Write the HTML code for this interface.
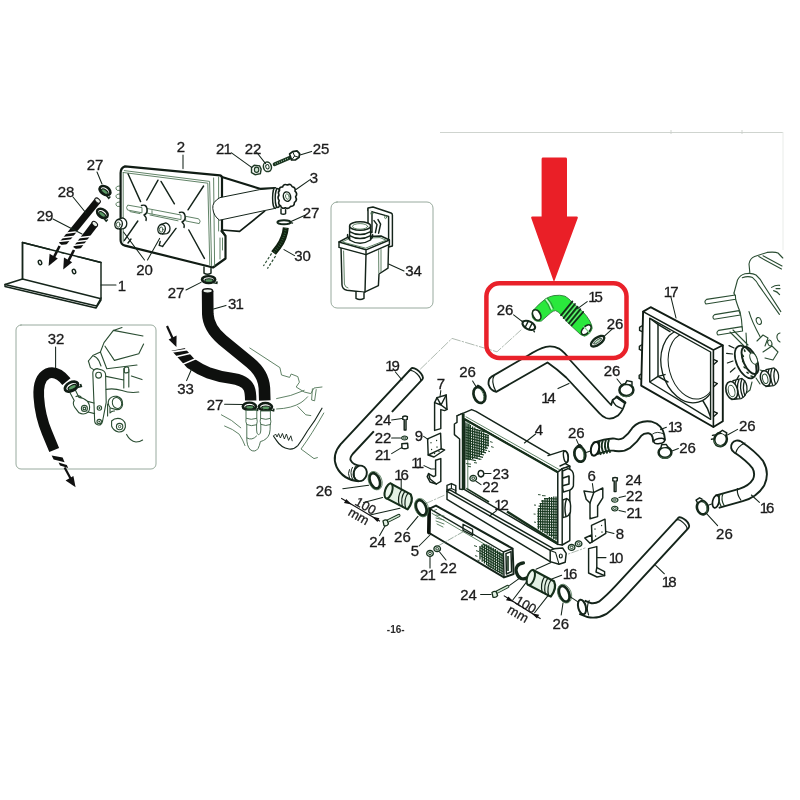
<!DOCTYPE html>
<html>
<head>
<meta charset="utf-8">
<title>Cooling system diagram</title>
<style>
html,body{margin:0;padding:0;background:#fff;}
body{width:800px;height:800px;overflow:hidden;font-family:"Liberation Sans",sans-serif;}
svg{display:block;filter:blur(0.35px);}
.l{fill:none;stroke:#14241a;stroke-width:1.45;stroke-linecap:round;stroke-linejoin:round;}
.lw{fill:#fff;stroke:#14241a;stroke-width:1.45;stroke-linecap:round;stroke-linejoin:round;}
.b{fill:none;stroke:#101c14;stroke-width:2.2;stroke-linecap:round;stroke-linejoin:round;}
.bw{fill:#fff;stroke:#101c14;stroke-width:2.2;stroke-linecap:round;stroke-linejoin:round;}
.t{fill:none;stroke:#4f7556;stroke-width:0.9;stroke-linecap:round;stroke-linejoin:round;}
.tw{fill:#fff;stroke:#4f7556;stroke-width:0.9;stroke-linecap:round;stroke-linejoin:round;}
.g{fill:none;stroke:#8aa08e;stroke-width:0.8;stroke-linecap:round;stroke-linejoin:round;}
.ld{fill:none;stroke:#14241a;stroke-width:1.05;stroke-linecap:round;}
.k{fill:none;stroke:#0e100e;stroke-linecap:butt;stroke-linejoin:round;}
#engineR .t,#engineR .tw,#inset32 .t,#inset32 .tw{stroke:#2a4d32;stroke-width:1.1}
.n{font-family:"Liberation Sans",sans-serif;font-size:15px;fill:#1b1b1b;text-anchor:middle;stroke:#1b1b1b;stroke-width:0.3;}
</style>
</head>
<body>
<svg width="800" height="800" viewBox="0 0 800 800">
<rect x="0" y="0" width="800" height="800" fill="#ffffff"/>
<!-- ===== defs ===== -->
<g id="sec-defs">
<defs>
<!-- small hose clamp seen at angle -->
<g id="clampS">
<ellipse cx="0" cy="0" rx="5.2" ry="3.4" fill="#fff" stroke="#101c14" stroke-width="2.2"/>
<ellipse cx="0.3" cy="0.8" rx="3.3" ry="1.6" fill="#5a9a64" stroke="#101c14" stroke-width="0.9"/>
<path d="M3.5 2.8 L6.5 3.6 L6.8 1.6" fill="none" stroke="#14281a" stroke-width="1.3"/>
</g>
<!-- ring clamp (26) upright ellipse -->
<g id="ring26">
<ellipse cx="0" cy="0" rx="5" ry="7.8" fill="#fff" stroke="#14281a" stroke-width="2.2"/>
<ellipse cx="0" cy="0" rx="6.6" ry="9.2" fill="none" stroke="#3f6a47" stroke-width="0.7"/>
</g>
<!-- nut -->
<g id="nut">
<path d="M-3.6 -1.8 L-1.5 -3.6 L2.6 -3.2 L3.8 -0.6 L3.2 2.8 L-0.8 3.6 L-3.6 2 Z" fill="#fff" stroke="#1f3b25" stroke-width="1.1"/>
<ellipse cx="0.3" cy="-0.2" rx="1.7" ry="2" fill="#cfe3d2" stroke="#1f3b25" stroke-width="0.9"/>
</g>
<!-- washer -->
<g id="washer">
<ellipse cx="0" cy="0" rx="3.6" ry="4.4" fill="#fff" stroke="#1f3b25" stroke-width="1.4"/>
<ellipse cx="0" cy="0" rx="1.5" ry="2" fill="#fff" stroke="#1f3b25" stroke-width="0.9"/>
</g>
<!-- tiny nut / washer for right side (top-view like) -->
<g id="nutT">
<ellipse cx="0" cy="0" rx="3.3" ry="2.9" fill="#d3e8d6" stroke="#183220" stroke-width="1.3"/>
<ellipse cx="0" cy="0" rx="1.4" ry="1.2" fill="#fff" stroke="#183220" stroke-width="0.9"/>
</g>
<marker id="ah" viewBox="0 0 10 10" refX="9" refY="5" markerWidth="6" markerHeight="6" orient="auto-start-reverse">
<path d="M0 0 L10 5 L0 10 Z" fill="#111"/>
</marker>
</defs>
</g>
<!-- ===== page ===== -->
<g id="sec-page">
<path d="M440 132.5 H783" stroke="#c9cfca" stroke-width="0.9" fill="none"/>
<path d="M671 130 v4 M742 130 v4" stroke="#c9cfca" stroke-width="0.9" fill="none"/>
<path d="M783 132 V250" stroke="#e6eae6" stroke-width="0.9" fill="none"/>
</g>
<!-- ===== insets ===== -->
<g id="sec-insets">
<rect x="331" y="202" width="102" height="106" rx="6" ry="6" class="g" style="stroke:#7f9585"/>
<rect x="16" y="325" width="140" height="144" rx="5" ry="5" class="g" style="stroke:#7f9585"/>
</g>
<!-- ===== left ===== -->
<g id="sec-left">
<!-- ===== plate 1 ===== -->
<g id="plate1">
<path class="lw" d="M22.5 242.5 L101 262.5 L101 300 L96 308 L5 286.5 L5 284.5 L22.5 279 Z"/>
<path class="l" d="M22.5 279 L100 298.5"/>
<path class="l" d="M5 284.5 L96.5 306 L101 298"/>
<path class="l" d="M22.5 242.5 V279" style="stroke-width:1.5"/>
<ellipse class="l" cx="40" cy="262.5" rx="1.6" ry="2.3" transform="rotate(-20 40 262.5)"/>
<ellipse class="l" cx="74" cy="271.5" rx="1.6" ry="2.3" transform="rotate(-20 74 271.5)"/>
<path class="ld" d="M101 285 H116"/>
</g>

<!-- ===== hoses 28 / 29 ===== -->
<g id="hose2829">
<path class="k" d="M97.4 201 L61.6 245" stroke-width="7"/>
<path d="M50 246 L70 244 L70 252 L50 254 Z" fill="#fff"/>
<path d="M65 233.2 L79 231.6" stroke="#fff" stroke-width="1.5"/>
<path d="M61.4 237.8 L75 236.2" stroke="#fff" stroke-width="1.5"/>
<path d="M58.2 241.6 L72 240" stroke="#fff" stroke-width="1.5"/>
<ellipse cx="97.6" cy="200.6" rx="3.2" ry="2" transform="rotate(40 97.6 200.6)" fill="#e6ede6" stroke="#111" stroke-width="1"/>
<path d="M59.6 246 L52 261" stroke="#111" stroke-width="2.6" fill="none"/>
<path d="M48.6 266 L49.6 253.8 L57.8 258.6 Z" fill="#111"/>
<path class="k" d="M94.6 224.3 L76 249" stroke-width="7"/>
<path d="M64 250 L84 248 L84 256 L64 258 Z" fill="#fff"/><path class="l" d="M22.5 242.5 L101 262.5"/>
<path d="M78.4 237.8 L92 236.2" stroke="#fff" stroke-width="1.5"/>
<path d="M75.2 241.8 L89 240.2" stroke="#fff" stroke-width="1.5"/>
<path d="M72.4 245.6 L86 244" stroke="#fff" stroke-width="1.5"/>
<ellipse cx="94.8" cy="224" rx="3.2" ry="2" transform="rotate(40 94.8 224)" fill="#e6ede6" stroke="#111" stroke-width="1"/>
<path d="M74 250 L66.4 264.6" stroke="#111" stroke-width="2.6" fill="none"/>
<path d="M63.2 269.6 L64 257.4 L72.2 262.2 Z" fill="#111"/>
<path class="ld" d="M73 197 L86 213"/>
<path class="ld" d="M53 219 L82 234"/>
</g>

<!-- clamps 27 upper-left -->
<use href="#clampS" transform="translate(105 190.6) rotate(35) scale(1.15)"/>
<use href="#clampS" transform="translate(102.4 213.4) rotate(35) scale(1.15)"/>
<path class="ld" d="M97 172 L102 184"/>

<!-- ===== tank 2 ===== -->
<g id="tank2">
<!-- left bumps -->
<path class="t" d="M119.5 186 q-4 0 -3.5 3 q0.5 2 3.5 1.5 M119.5 194 q-4 0 -3.5 3 q0.5 2 3.5 1.5 M119.5 202 q-4 0 -3.5 3 q0.5 2 3.5 1.5"/>
<!-- outer -->
<path class="bw" d="M120.6 173 Q120.6 168 125 166.4 L220 175.4 Q222 176 222 178 L222 231 L225.5 236 L225.5 258.5 L213 267.5 L125 245.6 Q120.6 244.5 120.6 240 Z"/>
<!-- front face inner -->
<path class="t" d="M124.3 170.6 L209.6 181.4 L211.6 265.8"/>
<path class="t" d="M123.2 172.5 L207.8 183.2 L209.8 265"/>
<path class="t" d="M123.2 172.5 V242"/>
<path class="t" d="M213.6 178 L214.6 266"/>
<path class="t" d="M218.6 177 V231"/>
<path class="l" d="M221 231 L225.5 236"/>
<path class="t" d="M220 238 V259 M222.5 238 V250"/>
<!-- ribs -->
<path class="l" d="M128 173.8 L140.6 201.6 M146.8 200 L158 180.2 M161 181.4 L174.4 203.8 M188 209.8 L203.6 186"/>
<path class="l" d="M124.4 240.4 L137.8 221 M162.6 246.4 L176 228.4 M188.8 230 L204.4 258.4"/>
<path class="l" d="M128 243 l3 -4 M162.6 246.4 l-3.4 -1 l1 -4"/>
<!-- cross tube -->
<path class="tw" d="M127.5 205.4 Q125.5 207.5 127.5 210 L142 212.8 L142 208 Z"/>
<path class="tw" d="M147.5 208.6 L181 215 L181 219.6 L147.5 213.2 Z"/>
<path class="tw" d="M186 216.4 L198.6 218.8 Q201.5 221 199.2 223.6 L186 221 Z"/>
<path class="l" d="M141.5 205.5 q4.5 -1.5 5.5 3 q0.8 5 -3 6.5 q3 2.5 2 5.4"/>
<path class="l" d="M179.5 212.5 q4.5 -1.5 5.5 3 q0.8 5 -3 6.5 q3 2.5 2 5.4"/>
<path class="t" d="M130 211.6 L140 213.6 M150 215 L178 220.8 M152 210.6 V214"/>
<!-- plugs 20 -->
<path class="lw" d="M117.4 219.6 L122.6 217.8 Q126.8 219.4 126.8 223.4 Q126.6 227.6 123.6 228.6 L119.4 229 Z" style="stroke-width:1.3"/>
<ellipse class="lw" cx="118.6" cy="224.2" rx="3.7" ry="4.7" transform="rotate(12 118.6 224.2)" style="stroke-width:1.4"/>
<ellipse class="t" cx="118.2" cy="224.6" rx="1.8" ry="2.6" style="stroke:#2a4d32"/>
<path class="lw" d="M160.4 224.6 L165.8 222.8 Q170 224.4 170 228.4 Q169.8 232.6 166.8 233.6 L162.4 234 Z" style="stroke-width:1.3"/>
<ellipse class="lw" cx="161.6" cy="229.2" rx="3.7" ry="4.7" transform="rotate(12 161.6 229.2)" style="stroke-width:1.4"/>
<ellipse class="t" cx="161.2" cy="229.6" rx="1.8" ry="2.6" style="stroke:#2a4d32"/>
<path class="ld" d="M144.5 260 L123.5 232 M147.5 260 L159.6 238.4"/>
<!-- bottom outlet -->
<path class="lw" d="M204 267 V273.2 Q207.5 275.4 211 273.2 V268.4"/>
<!-- leader 2 -->
<path class="ld" d="M183 155 V168.6"/>
</g>

<!-- ===== neck ===== -->
<g id="neck">
<path class="b" d="M222 177 L260 188.8 L275 188"/>
<path class="lw" d="M219.6 197.8 Q212 202 212.8 208.5 Q213.5 216 219.6 220.2 L264.5 210.6 L275 208.4 L275 188.4 L260 189.6 Z" style="stroke-width:1"/>
<path class="b" d="M222 230 L239.6 231.4 L264.6 211.2" style="stroke-width:1.7"/>
</g>

<!-- ===== cap 3 ===== -->
<g id="cap3">
<ellipse class="lw" cx="275.2" cy="198" rx="2.6" ry="10.4"/>
<ellipse class="lw" cx="277.8" cy="198" rx="2.6" ry="9.6"/>
<path class="lw" d="M281 209 v4.6 q2.4 1.4 4.6 0 v-4"/>
<path class="bw" d="M279.5 190.5 Q279 186.5 282.6 187 Q283.6 183.4 287.4 185 Q290.6 183.2 292.2 186.8 Q296 187.4 295 191.2 Q298 193.8 295.6 196.8 Q297.6 200.4 294.4 202.4 Q294.4 206.6 290.6 206.4 Q288.6 209.6 285.4 207.8 Q281.6 209.4 280.6 205.8 Q277.6 204 279.2 200.6 Q277 197.6 279 195 Q277.6 192 279.5 190.5 Z" style="stroke-width:1.6"/>
<ellipse class="l" cx="287" cy="196.6" rx="3.6" ry="4.8" transform="rotate(-15 287 196.6)"/>
<ellipse class="t" cx="287.4" cy="196.6" rx="1.8" ry="2.8" transform="rotate(-15 287.4 196.6)"/>
<path class="ld" d="M296 189.5 L310.5 179.4"/>
</g>

<!-- ===== hardware 21/22/25 ===== -->
<g id="hw-top">
<use href="#nut" transform="translate(256.2 170) scale(1.3)"/>
<use href="#washer" transform="translate(267.4 166.8) rotate(-15) scale(1.1)"/>
<path d="M274.6 164.2 L290.4 157.4" stroke="#1a3520" stroke-width="3.8" stroke-linecap="round" fill="none"/>
<path d="M275 164 L289 158" stroke="#a8c9ad" stroke-width="1.2" stroke-dasharray="0.8 1.4" fill="none"/>
<path class="lw" d="M289.6 154 L292.6 151.6 L297 150.8 L299.6 153.6 L299 157.4 L295.6 159.8 L291.6 160 Z" style="stroke-width:1.7"/><path class="l" d="M292.6 151.6 L294.6 156 L291.6 160 M294.6 156 L299 157.4" style="stroke-width:1"/>
<path class="ld" d="M231.5 152.8 L251.6 167.4 M256.4 152 L265.6 163.6 M300 155 L311.6 151.4"/>
</g>

<!-- ===== clamp 27 + hose 30 ===== -->
<g id="hose30">
<ellipse cx="284" cy="222.2" rx="6.6" ry="2" fill="#fff" stroke="#14281a" stroke-width="2"/>
<path d="M289.5 222.6 l3.6 0.6" stroke="#14281a" stroke-width="1.3" fill="none"/>
<path class="ld" d="M291 221.6 L305 215.2"/>
<path class="k" d="M285.8 227.6 Q284.8 238 278.6 246.6 L273.6 253" stroke-width="6" style="stroke:#10200f"/>
<path d="M285.8 228 Q284.8 238 278.6 246.6 L274 252.6" stroke="#3c7047" stroke-width="2" stroke-dasharray="0.7 1.7" fill="none"/>
<path d="M271.6 253.4 L263.4 266 M275.6 256 L267.4 268.6" stroke="#2a4d32" stroke-width="1.2" stroke-dasharray="2.6 1.8" fill="none"/>
<path class="ld" d="M284 249.6 L294.6 255.6"/>
</g>

<!-- ===== clamp 27 under tank + hose 31 / 33 ===== -->
<g id="hose3133">
<use href="#clampS" transform="translate(208.6 279.6) scale(1.25 1.05)"/>
<path class="ld" d="M186 290 L201 282.4"/>
<!-- hose 31 -->
<path class="k" d="M207.6 291 L207.8 314 Q208.4 328 222.5 340 L250 362.5 Q263.5 373.5 264.4 388 L264.8 400.5" stroke-width="11.6"/>
<ellipse cx="207.6" cy="291" rx="5" ry="2.2" fill="#e8efe8" stroke="#0e100e" stroke-width="1.6"/>
<path class="ld" d="M213.6 309 L226 305.4"/>
<!-- hose 33 -->
<path class="k" d="M174.6 345.4 L190.6 363.2 Q199 369 209.3 373.2 Q220 377 230.4 378.2 Q245 380 249 388 Q250.7 392 250.7 400.5" stroke-width="11.4"/>
<path d="M163 352.6 L189 347.2 L189 336 L163 338 Z" fill="#fff"/>
<path d="M169 352.4 L187 349.6" stroke="#fff" stroke-width="1.7" fill="none"/>
<path d="M172.6 357.4 L191 353.2" stroke="#fff" stroke-width="1.5" fill="none"/>
<path d="M179.6 365.6 L197.4 358" stroke="#fff" stroke-width="1.5" fill="none"/>
<path d="M167 326 L173.4 340" stroke="#111" stroke-width="2.2" fill="none"/>
<path d="M176.4 347 L168.6 339.4 L176.6 335.6 Z" fill="#111"/>
<path class="ld" d="M186.6 380.6 L191.4 369.5"/>
<path class="ld" d="M224.6 404.2 L243 404.4"/>
<!-- lower clamps -->
<use href="#clampS" transform="translate(249.4 406.4) scale(1.25 1.1)"/>
<use href="#clampS" transform="translate(265.4 406.8) scale(1.25 1.1)"/>
</g>

<!-- ===== pipe fittings + body sketch under hoses 31/33 ===== -->
<g id="under3133">
<path class="t" d="M249.8 348 L279.9 367.6 L281.5 375 L289.6 377.4 L291.2 374 L297.8 376.6 L299.4 382.2 L296.2 387 L304.2 392 L310.8 393.6 L314 388 L322 387"/>
<path class="t" d="M312.4 388.8 L311.6 400 L314.6 400.8 L316.2 389.6"/>
<path class="t" d="M276.6 398.6 Q291 396.4 304.2 390.4"/>
<path class="t" d="M276.6 409 Q292 408.4 301 402.6 Q305 400 307.6 396.8"/>
<path class="t" d="M297.8 406.6 L305.8 414.8 L310.8 415.6"/>
<path class="l" d="M322 408.2 Q315 421 307.4 431 Q302 440 297.8 445.6 Q294 449.6 289 449 Q281 447.6 276.6 440.6 L273.4 436" style="stroke-width:1.1"/>
<path class="t" d="M323.8 413 Q312 434 301 449 L314 458.6 L317.4 457.6"/>
<path class="l" d="M274 435.6 l1.6 -1.6 l1.4 3 l1.6 -3.4 l1.8 4.4 l2 -4.6 l2 5.6 l2 -5 l2.2 6.4 l2.2 -4.6 l1.4 5" style="stroke-width:0.9"/>
<path class="t" d="M221.4 414.8 Q232 419.6 240.8 427.8 M224.6 426 Q233 429 239.2 434.2 Q243 440 245 445.6"/>
<!-- pipes -->
<path class="tw" d="M246 410.6 V418.6 Q245.4 421.6 246.8 424.6 V437 Q246.4 446 250.6 450 Q255 452.6 258 448.6 Q259.6 445.6 260.4 441.6 Q267 440 269.4 434 Q270.4 430 270.2 425 Q271.4 421.6 270.4 418.4 V411 L260.6 411 V418.4 Q259.6 421 260.8 424.4 V430 Q260.6 434.6 258.4 434.6 Q256.6 434.4 256.6 430 V424.8 Q257.8 421.4 256.8 418.4 V410.6 Z" style="stroke:#3d6446"/>
<path class="t" d="M246.4 418.4 Q251 420.4 256.6 418.4 M246.8 424.6 Q251 426.8 256.6 424.8 M260.8 418.4 Q266 420.4 270.4 418.4 M260.8 424.4 Q266 426.6 270.2 424.6 M247 438 Q252 441 256.6 436" style="stroke:#3d6446"/>
</g>

<!-- ===== inset 34: reservoir ===== -->
<g id="res34">
<!-- bracket -->
<path class="lw" d="M368 208 L373 207 L391 213 Q392.4 213.6 392.4 215 L392.4 246 L388.6 247 L388.6 216.4 L368 210.6 Z"/>
<path class="lw" d="M368 208.6 V231 L372 232.6 V211.6"/>
<ellipse class="t" cx="371.8" cy="213.4" rx="1" ry="1.4"/><ellipse class="t" cx="385.6" cy="217.2" rx="1" ry="1.4"/>
<path class="l" d="M374 220.6 l3 4 l-1.6 8 M378 219.6 l2.6 4.6 l-2 9"/>
<!-- body -->
<path class="lw" d="M341 247 L342 285 Q342.4 289.4 347 290.2 L364.6 292.2 L378.4 285.6 L379 274 L388 268.2 L388.6 244 L366 254 Z"/>
<path class="l" d="M366 254 L365 292"/>
<path class="t" d="M343.6 251 L344.4 284 Q345 287.4 348 288 M378.6 250.6 L378.8 273 M381 249.6 V271.6"/>
<!-- lid -->
<path class="lw" d="M339 242 L348 237.2 L381 236 L389.4 240 L389.4 244.4 L366 254.6 L339 247.4 Z"/>
<path class="l" d="M339 242 L366 249.8 L389.4 240 M366 249.8 V254.6"/>
<path class="t" d="M342.6 241.8 L349 238.6 L380 237.6 L386 240.2 L366 248 Z"/>
<!-- cap -->
<path class="lw" d="M349.6 226 V240 Q360 246.5 370.6 240 V226 Z"/>
<path class="l" d="M349.6 231.6 Q360 237.6 370.6 231.6 M349.6 235.6 Q360 241.6 370.6 235.6" />
<path class="l" d="M347.6 234.6 Q347 238 349.6 239 M372.6 234.6 Q373 238 370.6 239"/>
<ellipse class="lw" cx="360.1" cy="226" rx="10.5" ry="4.2"/>
<ellipse class="t" cx="360.1" cy="226.4" rx="7.6" ry="2.8"/>
<!-- outlet -->
<path class="lw" d="M356 292 V298.4 Q360 300.6 364 298.4 V292.6"/>
<path class="ld" d="M388.6 264 L404 271"/>
</g>

<!-- ===== inset 32 ===== -->
<g id="inset32">
<!-- engine sketch -->
<path class="t" d="M113.4 330.4 L104 342.6 L100.4 352 L92.8 355.6 L88.4 361 M113.4 330.4 L122 327.6 M113.4 330.4 L143 336 M105 346.2 L114.4 360.4 L138.8 353.8 L143.6 344 M100.4 352 L106.8 368.8 L137 365 M92.8 355.6 Q97 357 99 361 L101 366"/>
<path class="t" d="M88.4 361 L90.4 367.6 L93.6 369.6"/>
<!-- bracket -->
<path class="tw" d="M92.8 373 Q93 369 97 368.6 L102 370 Q105.6 371.4 105.6 375 L106.2 402.4 L102.6 421 Q101.4 425.6 98.2 425 Q94.4 424.4 94.6 419.6 Z"/>
<circle class="t" cx="98.6" cy="375.2" r="2.9"/>
<circle class="t" cx="99.4" cy="408" r="2.2"/><circle class="t" cx="99.2" cy="421.6" r="2.2"/>
<circle cx="99.4" cy="408" r="0.9" fill="#2a4d32"/><circle cx="99.2" cy="421.6" r="0.9" fill="#2a4d32"/>
<!-- box + pin -->
<path class="t" d="M106 376.4 L123.8 380 L123.8 368.6 M106.2 389.4 Q114 388 122 390.6 Q130 393.4 138.8 392 M123.8 380 L123.8 388 M128.8 369.4 V387 M131.4 376 L142 379.6"/>
<path class="tw" d="M124.4 368 Q126.4 366 128.6 367.6 L128.8 372 Q126.6 373.6 124.4 372.4 Z"/>
<!-- cylinder right -->
<path class="tw" d="M109 399.6 Q112 395.4 117 396.4 Q123 398 122.6 404.6 Q121.6 410 116.4 409.6 L110.4 408 Q107 404 109 399.6 Z"/>
<ellipse class="t" cx="117" cy="403" rx="4.6" ry="5.6" transform="rotate(-20 117 403)"/>
<path class="t" d="M107.6 404 V416 M110 408 V413 Q112 410.6 114.6 411"/>
<!-- lower right round -->
<path class="tw" d="M111.6 421 Q115 417.6 120 418.6 Q126 421 125.4 427 Q124 432.4 118.6 432 Q113 430.6 111.6 426 Z"/>
<circle class="t" cx="119.6" cy="426.6" r="3.2"/><circle cx="119.6" cy="426.6" r="1.2" fill="none" stroke="#2a4d32" stroke-width="0.9"/>
<path class="t" d="M126.6 434.4 Q130 441 136 442 Q140 442 142.6 440"/>
<!-- small fitting from clamp -->
<path class="tw" d="M69.6 392 L74.6 388.4 L79 397.4 Q83.4 397.6 87.6 401.4 Q91.4 407.4 88.2 412 Q83.8 415.6 79 412.8 L74.8 407.4 Q72.2 403.6 74.2 400.4 Z"/>
<circle class="t" cx="84.4" cy="408.4" r="3"/><circle class="t" cx="84.4" cy="408.4" r="1.3"/>
<path class="t" d="M87.6 401.4 L94 403 M88.2 412 L94.6 413.6 M76 396.6 q3 -1.6 5 0.4"/>
<!-- hose 32 -->
<path class="k" d="M66.4 381.6 Q57 370 47.5 373.5 Q37.6 378.6 38.8 397 Q40 416 47 432.6 L54.2 450" stroke-width="10.6"/>
<path d="M51.6 455.4 L62.6 457.6 L64.6 462.2 L53.6 459.6 Z" fill="#0e100e"/>
<path d="M58.6 462.4 L66.8 465 L68.2 468 L60 465.6 Z" fill="#0e100e"/>
<path d="M64.6 467.4 L71.4 480" stroke="#111" stroke-width="2.2" fill="none"/>
<path d="M75.6 487.2 L65.6 480.6 L73.4 476 Z" fill="#111"/>
<use href="#clampS" transform="translate(71.4 386.6) rotate(-28) scale(1.35 1.25)"/>
<path class="ld" d="M55.6 347 V368"/>
</g>
</g>
<!-- ===== right ===== -->
<g id="sec-right">
<!-- ===== assembly axis lines (thin dash-dot) ===== -->
<g id="axes">
<path d="M420.5 369 L452 338.4 L497 351.8 L521 330" class="g" style="stroke:#9aa89d;stroke-dasharray:9 2 1.5 2"/>
<path d="M444 495.4 L426 503.4 M560 557 L585 548" class="g" style="stroke:#9aa89d;stroke-dasharray:7 2 1.5 2"/>
</g>

<!-- ===== hose 14 ===== -->
<g id="hose14">
<path class="lw" d="M491.2 376.9 L528.8 355 Q538 349 546 346.8 Q553 345.6 559 348.6 Q565 352.6 570 360 L608.8 402.5 L611.2 405 L612.6 400 L616.9 396.9 L625 402.6 Q623.6 410 618 415.6 Q612 420 606 418 Q602 416.4 600 413.8 L566.2 377.5 Q557 369 547.5 362.5 L496.2 391.9 Q490.4 390.6 488.6 384.6 Q488 378.8 491.2 376.9 Z" style="stroke-width:1.8"/>
<path class="l" d="M494.2 375.4 q-3.6 6 1.6 15.8" style="stroke-width:1.2"/>
<path d="M616.9 396.9 L625 402.6" stroke="#14241a" stroke-width="2.8" stroke-linecap="round" fill="none"/>
<path class="l" d="M612.6 400 Q614 406 621.6 408.4" style="stroke-width:1.2"/>
<path class="ld" d="M558 388.6 L569 383.6"/>
</g>

<!-- ===== hose 19 ===== -->
<g id="hose19">
<path d="M416.6 374.1 L347 448.7 Q340.4 456.4 343.6 463.6 Q348 472.6 359.6 473.6" fill="none" stroke="#14241a" stroke-width="17.4" stroke-linecap="butt"/>
<path d="M417.4 373.3 L347 448.7 Q340.4 456.4 343.6 463.6 Q348 472.6 361 473.8" fill="none" stroke="#fff" stroke-width="13.6" stroke-linecap="butt"/>
<path d="M411.1 368.6 A7.75 3.4 43 0 1 422.5 379.2" fill="#fff" stroke="#14241a" stroke-width="1.9" stroke-linecap="round"/>
<path d="M408.9 371 A7.75 3.4 43 0 1 420.3 381.6" fill="none" stroke="#14241a" stroke-width="1.2"/>
<path d="M391.6 411.6 L373.6 431" stroke="#fff" stroke-width="5" fill="none"/>
<ellipse class="lw" cx="360.2" cy="473.4" rx="6.6" ry="7.8" transform="rotate(15 360.2 473.4)" style="fill:#fff;stroke-width:1.9"/>
<path class="l" d="M352.4 467.4 q-3 5 0 11.4 M355.4 466.2 q-3 6 0 13.4 M349.4 469.6 q-2 4 0 8" style="stroke-width:1"/>
<path class="ld" d="M395.4 372 L402 380"/>
</g>

<!-- ===== hose 18 ===== -->
<g id="hose18">
<path d="M683.4 522.9 L621.5 590 Q611 601.4 603 607.6 Q596 611.6 589 610 L582 607.2" fill="none" stroke="#14241a" stroke-width="16.2" stroke-linecap="butt"/>
<path d="M684.2 522 L621.5 590 Q611 601.4 603 607.6 Q596 611.6 589 610 L580.6 606.8" fill="none" stroke="#fff" stroke-width="12.4" stroke-linecap="butt"/>
<path d="M678.35 517.75 A7.15 3.2 42.7 0 1 688.85 527.45" fill="#fff" stroke="#14241a" stroke-width="1.9" stroke-linecap="round"/>
<path d="M676.05 520.25 A7.15 3.2 42.7 0 1 686.55 529.95" fill="none" stroke="#14241a" stroke-width="1.2"/>
<ellipse class="lw" cx="582" cy="607" rx="3.8" ry="7.4" transform="rotate(-14 582 607)" style="stroke-width:2"/>
<path class="l" d="M589.2 600.4 q-3.4 7 -0.6 14.6" style="stroke-width:1.1"/>
<path class="ld" d="M664.4 573.8 L655.6 565.4"/>
</g>

<!-- ===== hose 13 ===== -->
<g id="hose13">
<path d="M595 448.6 Q606 444.6 613 444.4 Q621 446.8 626.6 443 Q633 438 637 431.6 Q641.6 426.4 650 427.4 Q657 429.4 658.4 436 L659.2 441.4" fill="none" stroke="#14241a" stroke-width="13.8" stroke-linecap="butt" stroke-linejoin="round"/>
<path d="M594.2 448.8 Q606 444.6 613 444.4 Q621 446.8 626.6 443 Q633 438 637 431.6 Q641.6 426.4 650 427.4 Q657 429.4 658.4 436 L659.4 442.2" fill="none" stroke="#fff" stroke-width="10" stroke-linecap="butt" stroke-linejoin="round"/>
<path d="M599.6 441.4 q-2.8 6.6 1.4 13.4 M602.8 440.6 q-2.8 6.6 1.4 13.4 M606 440 q-2.8 6.6 1.4 13.4 M609 439.8 q-2.8 6.6 1.4 13" stroke="#16301b" stroke-width="1.9" fill="none"/>
<ellipse class="bw" cx="595" cy="448.8" rx="4" ry="7" transform="rotate(14 595 448.8)" style="stroke-width:2"/>
<ellipse class="bw" cx="659.2" cy="441" rx="5.4" ry="2.6" transform="rotate(-10 659.2 441)" style="stroke-width:1.5"/>
<path class="l" d="M652.6 434 q4.6 -3.4 11 0" style="stroke-width:0.9"/>
<path class="ld" d="M666.4 427.2 L660.6 429.6"/>
</g>

<!-- ===== hose 16 (right) ===== -->
<g id="hose16r">
<path d="M737.4 446.8 Q751 456 757.8 464.6 Q762.8 473.4 758.6 482.4 Q753 491.6 741 495 L717 501.8" fill="none" stroke="#14241a" stroke-width="14.6" stroke-linecap="butt"/>
<path d="M737.4 446.8 L738 447.2" fill="none" stroke="#14241a" stroke-width="14.6" stroke-linecap="round"/>
<path d="M737.4 446.8 Q751 456 757.8 464.6 Q762.8 473.4 758.6 482.4 Q753 491.6 741 495 L715.2 502.2" fill="none" stroke="#fff" stroke-width="10.8" stroke-linecap="butt"/>
<path d="M737.4 446.8 L738 447.2" fill="none" stroke="#fff" stroke-width="10.8" stroke-linecap="round"/>
<path class="l" d="M735.6 453.4 q1.6 -7 9.4 -10.4" style="stroke-width:1.2"/>
<ellipse class="bw" cx="715.8" cy="501.6" rx="3.2" ry="6.4" transform="rotate(12 715.8 501.6)" style="stroke-width:1.7"/>
<path d="M720 494.2 q-2.6 6 1.4 12.6 M723 493.6 q-2.6 6 1.4 12.4" stroke="#1f3b25" stroke-width="1.2" fill="none"/>
<path class="l" d="M737.4 488.6 q-0.6 6 3.4 11.4" style="stroke-width:1.2"/>
<path class="ld" d="M759.4 502.4 L751.4 495"/>
</g>

<!-- ===== shroud 17 ===== -->
<g id="shroud17">
<clipPath id="shClip"><path d="M649.7 318.2 L710.6 352 L710.6 419.4 L649.7 382 Z"/></clipPath>
<path class="bw" d="M643.1 311.6 L650.6 307.2 L722.8 345.3 L722.8 421.2 L713.4 427 L641.2 385.6 Z" style="stroke-width:1.9"/>
<path class="b" d="M643.1 311.6 L713.4 350 L713.4 427 M713.4 350 L722.8 345.3" style="stroke-width:1.6"/>
<path class="lw" d="M649.7 318.2 L710.6 352 L710.6 419.4 L649.7 382 Z" style="stroke-width:1.4"/>
<g clip-path="url(#shClip)">
<path class="l" d="M649.7 318.2 L658 324.4 L658 376.4 L649.7 382 M658 376.4 L668 382"/>
<path class="l" d="M658 324.4 L670 331.6 M658 376.4 L665 374.6"/>
<ellipse class="l" cx="688.6" cy="366" rx="27" ry="37.4" transform="rotate(-15 688.6 366)" style="stroke-width:1.3"/>
<ellipse class="l" cx="692" cy="366" rx="23" ry="33.6" transform="rotate(-15 692 366)" style="stroke-width:1"/>
<path class="l" d="M703 401 Q708 408 710.6 417"/>
</g>
<path class="l" d="M641.6 326 l-2 1.4 v3 l2 1 M641.4 345 l-2 1.4 v3 l2 1 M641.2 374 l-2 1.4 v3 l2 1" />
<path class="b" d="M714 359.6 l3.4 1.6 l-3.4 3 M714 382 l3.4 1.6 l-3.4 3 M714 411.6 l3.4 1.6 l-3.4 3" style="stroke-width:1.3"/>
<path class="ld" d="M671 297.4 L676 318"/>
</g>

<!-- ===== engine sketch (right) ===== -->
<g id="engineR">
<path class="t" d="M749.8 272.4 L749 264 Q750 258.4 754.6 256.6 L767 252.4 Q775 251.6 778 253 L782.8 258 M758.8 256.6 L781.5 269 M763 255.8 L782 266"/>
<path class="t" d="M734 293 L737.5 280 Q740 275 745 273.8 Q752 272.6 756 275 Q760.6 279 763 284 L780.8 311.6 M742.3 277.8 Q748 275.6 752.6 277.6 Q756.6 281 758.8 285.4 L779.4 314.4"/>
<path class="t" d="M771.6 287.4 q4 -2.6 8 -2 M773.6 290.6 q4 1 6 4 M776 288.6 l4 0"/>
<path class="t" d="M734 293 Q736.6 304 740 311.6 Q742 320 742.3 329.4 M749 311.6 Q752 322 760 336.4"/>
<path class="tw" d="M735.4 295 L706.6 299.4 Q703.6 301.6 706 304 L735.6 299.2 Z M739 310.6 L714.6 314.6 Q711.6 316.8 714 319.2 L740.4 315 Z M742 326.6 L718.6 330.4 Q715.6 332.6 718 335 L742.6 331 Z"/>
<ellipse class="t" cx="758.8" cy="321" rx="2.4" ry="3.6" transform="rotate(-20 758.8 321)"/>
<ellipse class="t" cx="769.8" cy="343" rx="2" ry="3" transform="rotate(-20 769.8 343)"/>
<path class="t" d="M780 333 q-3.6 1 -3 5 q0.6 3 3 4"/>
<!-- fan / pulley -->
<path class="t" d="M730 332 L744 346 M733 330 L748 345 M746 333 L747 350"/>
<ellipse class="lw" cx="745.6" cy="362" rx="9" ry="17.4" transform="rotate(-24 745.6 362)" style="stroke-width:1.7"/>
<ellipse class="l" cx="750" cy="360.4" rx="6.6" ry="14.6" transform="rotate(-24 750 360.4)" style="stroke-width:1.9"/><path d="M744.4 350 l0.6 1.4 M742.6 355 l0.8 1.4 M742.6 361 l1 1.2 M744 367 l1.2 1 M747 372.4 l1.2 0.8 M751 376 l1.4 0.4" stroke="#16301b" stroke-width="1.5" stroke-linecap="round"/>
<ellipse class="tw" cx="753.6" cy="358.6" rx="3.2" ry="6" transform="rotate(-24 753.6 358.6)"/>
<path class="l" d="M734 348 l-5 -2.4 M732.6 354 l-6 -0.6 M733 361 l-5.6 2 M735 368 l-4.6 4 M739 375.6 l-3 5 M745 381 l-1 5" style="stroke-width:1.2"/>
<path class="t" d="M757 341 l6 -6 l5 3 l-3 8 M763 352 l9 -6 l6 6 l-5 8 l-8 -2 M760 370 l8 2 l2 8"/>
<path class="t" d="M752 382 l-2 8 l-5 4 M756 378 l4 6"/>
<!-- ports -->
<path d="M733 380.6 L742 378.4 Q747.6 382 747 390 Q746 396.6 741 398.6 L732 399.6 Z" fill="#fff" stroke="#14241a" stroke-width="1.2"/>
<path d="M736 380 q-3.6 8.6 1 19 M739 379.4 q-3.6 8.6 1 19 M742 378.8 q-3.4 8.6 1 18.6 M744.6 380.4 q-2.6 7 0.4 15.6" stroke="#14241a" stroke-width="1.3" fill="none"/>
<ellipse cx="731.8" cy="390.4" rx="5.8" ry="9" transform="rotate(-14 731.8 390.4)" fill="#fff" stroke="#14241a" stroke-width="1.6"/>
<ellipse cx="731.6" cy="391" rx="3.2" ry="5.8" transform="rotate(-14 731.6 391)" fill="#fff" stroke="#2a4d32" stroke-width="1"/>
<path d="M766 369.6 L774 368 Q779 371 778.6 378 Q777.6 384 773.6 385.6 L766 386.6 Z" fill="#fff" stroke="#14241a" stroke-width="1.2"/>
<path d="M769 369 q-3 7.6 0.8 17.2 M772 368.4 q-3 7.6 0.8 17.2 M775 369 q-2.6 7 0.6 15.6" stroke="#14241a" stroke-width="1.3" fill="none"/>
<ellipse cx="765.4" cy="378.4" rx="4.8" ry="7.8" transform="rotate(-14 765.4 378.4)" fill="#fff" stroke="#14241a" stroke-width="1.5"/>
<ellipse cx="765.2" cy="378.8" rx="2.6" ry="4.8" transform="rotate(-14 765.2 378.8)" fill="#fff" stroke="#2a4d32" stroke-width="1"/>
</g>

<!-- ===== green hose 15 + clamps ===== -->
<g id="hose15">
<path d="M533 310.6 Q539 303.6 545.9 298.6 Q549.6 296.4 553.8 295.6 Q560 294.6 565 296.2 Q569 298.4 571.8 302 L583 312 Q587 316 589.8 321 Q592 325 592.2 328.2 Q590.6 334 584.6 336.2 L580.6 334.6 L568.4 323.2 L561.6 315.4 Q558.6 311.6 555.6 310.6 Q553.4 310.8 551 312.6 L541.4 321 Q535 322.6 532.4 317.4 Q531.4 313.4 533 310.6 Z" fill="#2ae83c" stroke="#2f7a3a" stroke-width="0.9" stroke-linejoin="round"/>
<ellipse cx="536.7" cy="315" rx="3.7" ry="5.6" transform="rotate(-28 536.7 315)" fill="#fff" stroke="#16301b" stroke-width="1.7"/>
<ellipse cx="586.2" cy="329.8" rx="3.3" ry="6.1" transform="rotate(44 586.2 329.8)" fill="#fff" stroke="#16301b" stroke-width="1.7"/>
<path d="M583.2 326.2 q3 2.4 6.6 7.4" stroke="#7ad487" stroke-width="1.2" fill="none"/>
<path d="M545.9 299 Q550 303.4 552 309.4" stroke="#d6f3da" stroke-width="1.6" fill="none"/>
<path d="M547.4 298 Q551.6 302.6 553.6 308.6" stroke="#2a6b33" stroke-width="0.8" fill="none"/>
<path d="M544.6 300 Q548.6 304.4 550.6 310.4" stroke="#2a6b33" stroke-width="0.7" fill="none"/>
<!-- bellows collar -->
<path d="M572.4 301.4 L561 315.4 M575 304 L563.6 318 M577.6 306.6 L566.2 320.6 M580.4 309.2 L569 323.2 M583.2 312 L571.6 325.4" stroke="#15281a" stroke-width="1.7" fill="none" stroke-linecap="round"/>
<path d="M573.8 302.8 L562.4 316.8 M576.4 305.4 L565 319.4 M579 308 L567.6 322 M581.8 310.6 L570.4 324.4" stroke="#9fd9a8" stroke-width="0.7" fill="none"/>
<!-- clamp 26 left -->
<g transform="translate(528.8 325.4) rotate(27)">
<ellipse cx="0" cy="0" rx="6.8" ry="3.9" fill="#fff" stroke="#14281a" stroke-width="2.1"/>
<path d="M-2.4 -3.6 V3.6 M2 -3.6 V3.6" stroke="#14281a" stroke-width="1.4"/>
<path d="M-7 -1 l-1.6 0.4 M6.6 2.6 l1.8 0.8" stroke="#14281a" stroke-width="1.3"/>
</g>
<!-- clamp 26 right -->
<g transform="translate(597.6 341.2) rotate(-35)">
<ellipse cx="0" cy="0" rx="7.8" ry="3.5" fill="#fff" stroke="#14281a" stroke-width="2.4"/>
<ellipse cx="0" cy="0" rx="4.8" ry="1.3" fill="#b9d8be" stroke="#14281a" stroke-width="0.7"/>
</g>
<path class="ld" d="M513.6 314.8 L522.4 321.6 M587.2 301.6 L577.6 308.6 M612.4 328.8 L603.8 336.6"/>
</g>

<!-- ===== radiator 4 ===== -->
<g id="rad4">
<!-- top face + back -->
<path class="lw" d="M457 415.8 L471.6 409.6 L476 411.4 L569.8 466.2 L562.2 468.6 L557.8 472.2 L465 419.4 Z"/>
<!-- outlet stub top-right -->
<path class="lw" d="M548 455.6 L563.6 450.6 Q568.6 451.6 568.4 457 Q568 462 565.6 463.4 L560 466"/>
<ellipse class="l" cx="565.8" cy="456.8" rx="2.2" ry="5.8" transform="rotate(-10 565.8 456.8)"/>
<!-- left tank -->
<path class="lw" d="M457 415.8 L462.5 413.4 L462.5 489.6 L459.6 489 L459.6 439 L454.4 434.6 L454.4 424 L457 422.4 Z"/>
<!-- core front face -->
<path class="lw" d="M464.6 419.2 L557.8 472.2 L557.8 544.4 L464.6 489.6 Z"/>
<!-- thick frame lines -->
<path d="M463.4 413.6 V490" stroke="#16301b" stroke-width="2.4" fill="none"/>
<path d="M464.6 419.2 L557.8 472.2" stroke="#16301b" stroke-width="2.2" fill="none"/>
<path d="M507 511.6 L557.8 543.6" stroke="#16301b" stroke-width="2.4" fill="none"/>
<path d="M466.4 488.4 L489 502" stroke="#16301b" stroke-width="1.6" fill="none"/>
<path class="t" d="M467.8 422 V489 M469.6 423 V460"/>
<path class="t" d="M466 416.8 L560 470"/>
<!-- right tank -->
<path class="lw" d="M557.8 472.2 L562.2 468.6 L569.8 466.2 L569.8 540.6 L562.2 545 L557.8 544.4 Z"/>
<path class="l" d="M562.2 468.6 V545"/>
<path class="lw" d="M562.6 471 L568 468.6 Q573.6 470 573.6 476 L573.4 486 Q572 490 568 490.6 L563.4 492 L562.6 488 Z"/>
<path class="l" d="M563 478 L569 476 L569 484 L563.6 485.6" style="stroke-width:1.6"/>
<path class="lw" d="M562.8 500 L566.6 498.6 Q570.6 500 570.6 506 L570.4 512 Q569 516 566 516.6 L563 517.6 Z"/>
<path class="l" d="M566.6 498.6 Q563.6 507 566 516.6"/>
<!-- mesh top-left -->
<g stroke="#17381f" fill="none">
<path d="M466.0 422.6 V460.0 M468.2 423.8 V460.0 M470.4 425.1 V459.0 M472.6 426.4 V459.0 M474.8 427.6 V458.0 M477.0 428.9 V458.0 M479.2 430.1 V456.0 M481.4 431.4 V455.0 M483.6 432.6 V452.0 M485.8 433.9 V449.0 M488.0 435.1 V446.0" stroke-width="1.3"/>
<path d="M465.6 427.0 L489.0 432.9 M465.6 429.6 L489.0 435.5 M465.6 432.2 L489.0 438.0 M465.6 434.8 L489.0 440.6 M465.6 437.4 L489.0 443.2 M465.6 440.0 L489.0 445.9 M465.6 442.6 L488.0 448.2 M465.6 445.2 L487.0 450.5 M465.6 447.8 L486.0 452.9 M465.6 450.4 L484.0 455.0 M465.6 453.0 L483.0 457.4 M465.6 455.6 L480.0 459.2 M465.6 458.2 L476.0 460.8" stroke-width="1.1"/>
</g>
<path d="M466 463.6 l5 0.6 M468 466.4 l3 0.4 M474 462.6 l3 0.4 M479 459 l2.4 0.4 M490 441.6 l2.6 0.8 M491 446.6 l2.6 0.8 M488 451 l2 0.6" stroke="#1c4225" stroke-width="0.9" fill="none"/>
<!-- mesh bottom-right -->
<g stroke="#17381f" fill="none">
<path d="M556.0 496.5 V540.3 M553.8 496.5 V538.9 M551.6 497.0 V537.5 M549.4 497.0 V536.1 M547.2 498.0 V534.7 M545.0 498.5 V533.3 M542.8 500.0 V531.9 M540.6 503.0 V530.6 M538.4 508.0 V529.2" stroke-width="1.3"/>
<path d="M544.0 498.5 L557.0 499.0 M541.0 501.0 L557.0 501.6 M539.6 503.5 L557.0 504.2 M538.6 506.1 L557.0 506.8 M538.0 508.6 L557.0 509.4 M537.6 511.2 L557.0 512.0 M537.4 513.8 L557.0 514.6 M537.4 516.4 L557.0 517.2 M537.4 519.0 L557.0 519.8 M537.4 521.6 L557.0 522.4 M537.4 524.2 L557.0 525.0 M537.4 526.8 L557.0 527.6 M540.5 529.5 L557.0 530.2 M544.6 532.3 L557.0 532.8 M548.8 535.1 L557.0 535.4 M552.9 537.8 L557.0 538.0" stroke-width="1.1"/>
</g>
<path d="M538 494.6 l2.6 0.2 M542 495.6 l3.6 0.2 M534 505 l2 0.2 M533.6 514 l2 0.2 M534 522 l2 0.4" stroke="#1c4225" stroke-width="0.9" fill="none"/>
<!-- 23 / 22 inside -->
<path class="lw" d="M478.6 471.6 Q480.6 469.6 483 471.4 Q484.6 474 483 476 L481 477 Q478.6 476.6 478 474 Z"/>
<use href="#nutT" transform="translate(473.2 478.2)"/>
<path class="ld" d="M484.6 473.4 L491 473.4 M476 481.2 L481 484.6"/>
<path class="ld" d="M535.6 434 L524.4 443"/>
</g>

<!-- ===== crossmember 12 ===== -->
<g id="cross12">
<path class="lw" d="M447 485.4 L451.4 483.6 L455.8 485.6 L455.8 493.4 L447 491.6 Z"/>
<path class="l" d="M451.4 483.6 V488.4 L455.8 490.4 M451.4 488.4 L447 489.8" style="stroke-width:1.1"/>
<path class="lw" d="M447 491.4 L449.4 489.6 L553.8 548.8 L562.6 548 L566.2 553.4 L565.2 562.2 L559 564.2 L550.2 561.6 L447 499.4 Z"/>
<path class="l" d="M447 491.4 L550.2 550.4 V561.6 M550.2 550.4 L553.8 548.8" />
<path class="l" d="M550.2 550.4 L555.6 552.6 L559 564.2" style="stroke-width:1.1"/>
<ellipse class="l" cx="560.8" cy="556" rx="1.5" ry="2" style="stroke-width:1.2"/>
<path class="ld" d="M496.6 510.6 L489.6 516"/>
</g>

<!-- ===== oil cooler 5 ===== -->
<g id="cooler5">
<path class="lw" d="M429.6 508.6 L436 505.6 L512.6 548.6 L513.6 574 L504 577.4 L429.2 533 Z" style="stroke-width:2"/>
<path class="l" d="M429.6 508.6 L503.4 552 L512.6 548.6 M503.4 552 L504 577.4"/>
<path d="M429.2 509 L428.8 532.6" stroke="#0b120c" stroke-width="3.6" stroke-linecap="round" fill="none"/>
<path class="t" d="M432 513.4 L503 555 M433 511 L436.6 509.4"/>
<path class="t" d="M436 515 l8 1 M436 518 l8 2 M436 521 l8 3 M437 524 l6 3"/>
<path class="l" d="M463 524.2 L472.6 529.4 V535.4 L463 530.4 Z" style="stroke-width:1.3"/>
<path class="l" d="M506 553.6 L511 551.6 L511.6 571.6 L506.4 574 Z"/>
<path d="M508 556 V571" stroke="#16301b" stroke-width="1.6"/>
<g stroke="#17381f" fill="none">
<path d="M502.0 553.0 V574.4 M499.8 551.7 V573.1 M497.6 550.4 V571.8 M495.4 549.1 V570.5 M493.2 547.8 V569.2 M491.0 546.5 V567.9 M488.8 545.3 V566.6 M486.6 544.5 V565.1 M484.4 544.2 V563.5 M482.2 544.4 V561.8 M480.0 546.1 V559.6" stroke-width="1.3"/>
<path d="M483.0 544.3 L503.0 556.0 M481.0 545.7 L503.0 558.6 M480.0 547.7 L503.0 561.2 M479.6 550.1 L503.0 563.8 M479.6 552.7 L503.0 566.4 M480.6 555.9 L503.0 569.0 M483.0 559.9 L503.0 571.6 M487.0 564.8 L503.0 574.2" stroke-width="1.1"/>
</g>
<path d="M474 545.6 l3 1 M476 550.6 l3 1 M475 555.6 l2.4 0.8 M477.6 560 l2 0.8" stroke="#1c4225" stroke-width="0.9" fill="none"/>
<path class="ld" d="M419 546 L431 534"/>
<path d="M438 546 L468 529" class="g" style="stroke:#7f9585;stroke-dasharray:6 2 1.5 2"/>
<use href="#nutT" transform="translate(430 553.4)"/>
<use href="#nutT" transform="translate(437.2 548.8)"/>
<path class="ld" d="M430 557 V568 M439.6 552 L446 560"/>
</g>

<!-- ===== brackets 7 / 9 / 11 ===== -->
<g id="br7911">
<path class="lw" d="M434.6 402.6 L437 397.6 L446.2 395 L447 409.4 L444.6 410.6 L440.8 409.6 L440.8 428.6 L434.6 430.4 Z"/>
<path class="l" d="M437 397.6 L441 405 L447 409.4 M441 405 L434.6 402.6 M446.2 395 L441 405"/>
<path class="ld" d="M440.8 390.6 L440 397"/>
<path class="lw" d="M427.6 438.8 L440.6 433.2 L441.2 448.8 L444.6 450 L434 457 L428.2 455 Z"/>
<path class="l" d="M428.2 455 L441.2 448.8"/>
<path d="M431 442.6 v0.2 M436.6 440.4 v0.2 M431.6 449.4 v0.2 M437 447 v0.2 M434.6 453.4 v0.2 M439 451.4 v0.2" stroke="#1f3b25" stroke-width="1.3" stroke-linecap="round"/>
<path class="ld" d="M423.6 436.4 L428 439.4"/>
<path class="lw" d="M435.6 460.2 L440.8 458.6 L440.8 481.4 L436.4 484 L430 482 L427.2 476.6 L428.6 473.6 L433.6 476.6 L435.6 475.6 Z"/>
<path class="l" d="M428.6 473.6 L430 479 L436.4 484"/>
<path class="ld" d="M424 465.6 L431 469 L435.4 469"/>
</g>

<!-- ===== bolts / washers 24 22 21 (left of radiator) ===== -->
<g id="hwL">
<path class="lw" d="M402.8 416.6 Q405 415.4 407.4 416.6 L407.2 419.4 L406 419.6 L406 430 L404.2 430 L404.2 419.6 L402.8 419.4 Z"/>
<path class="ld" d="M391.6 420 L402 418.6"/>
<use href="#nutT" transform="translate(404.6 438) scale(0.9 0.7)"/>
<path class="lw" d="M401.8 443.8 L407.6 443.2 L408 447.8 Q405 449.6 402 448.2 Z"/>
<path class="ld" d="M391.6 438 L400.6 438 M391.6 453.6 L401.6 447.6"/>
</g>

<!-- ===== brackets 6 / 8 / 10 and hardware (right of radiator) ===== -->
<g id="br6810">
<path class="lw" d="M584 491 L593.8 492.4 L602.8 488 L602.8 497.8 L597.6 506 L597.6 516.6 L590 518.8 L590 503 L586.2 499.2 Z"/>
<path class="l" d="M593.8 492.4 L590 503"/>
<path class="ld" d="M592.4 483.6 L593.6 492"/>
<path class="lw" d="M584.8 538 L591.6 535 L592.2 541.8 L590 543.2 Z"/>
<path class="lw" d="M591.5 525.4 L605 519.2 L605.8 533.4 L592.2 541.8 Z"/>
<path d="M595 529 v0.2 M601.6 525.4 v0.2 M595.6 536 v0.2 M602 532 v0.2" stroke="#1f3b25" stroke-width="1.3" stroke-linecap="round"/>
<path class="ld" d="M606 531.4 L614 533.4"/>
<path class="lw" d="M588.6 548.6 L596.8 546.6 L596.8 567.6 L604.6 571.6 L604.6 575.6 L597 577 L588.6 573 Z"/>
<path class="l" d="M596.8 567.6 L596 572 L604.6 575.6"/>
<path class="ld" d="M597.4 557.6 L606 557.6"/>
<!-- bolt 24 etc -->
<path class="lw" d="M612.8 478 Q615 476.8 617.4 478 L617.2 480.8 L616 481 L616 491.6 L614.2 491.6 L614.2 481 L612.8 480.8 Z"/>
<use href="#nutT" transform="translate(614.8 500) scale(0.95 0.75)"/>
<use href="#nutT" transform="translate(614.8 508.6) scale(0.95 0.8)"/>
<path class="ld" d="M619 497.6 L625.6 496 M619 510.6 L625.6 512"/>
<use href="#nutT" transform="translate(571.6 547.4)"/>
<use href="#nutT" transform="translate(578.6 543.8)"/>
</g>

<!-- ===== clamps 26 ===== -->
<g id="clamps26">
<!-- near hose14 left -->
<g transform="translate(479.4 395) rotate(-20)"><ellipse cx="0" cy="0" rx="5.6" ry="8.2" fill="#fff" stroke="#14281a" stroke-width="2.7"/><path d="M-1 -8 l3 -1.6 l2 2.4" class="l"/><path d="M2.6 -5.4 q3 5 0 11" class="t"/></g>
<path class="ld" d="M472.6 381 L476.6 387.6"/>
<!-- near hose14 right -->
<g transform="translate(626.4 390) "><ellipse cx="0" cy="0" rx="7" ry="6" fill="#fff" stroke="#14281a" stroke-width="2.5"/><path d="M-1 -6.6 l1.6 -2.8 l5 1.2 l0 2.8" class="lw"/><path d="M-5.6 5.2 q5.6 3.6 10.6 -0.8" class="t"/></g>
<path class="ld" d="M617 379 L622.6 386"/>
<!-- near hose13 left -->
<g transform="translate(579.8 454.2) rotate(-12)"><ellipse cx="0" cy="0" rx="5.4" ry="7.6" fill="#fff" stroke="#14281a" stroke-width="2.7"/><path d="M2.6 -5.6 q3 5 0 11" class="t"/><path d="M-1 -8.4 l3 -1 l1.6 2.2" class="l"/></g>
<path class="ld" d="M576.4 439.6 L579.4 446.4"/>
<path class="ld" d="M586 452.6 L590.6 451"/>
<!-- near hose13 right -->
<g transform="translate(665 452.4)"><ellipse cx="0" cy="0" rx="6.4" ry="5.4" fill="#fff" stroke="#14281a" stroke-width="2.5"/><path d="M-4 -5 l0.6 -2.6 l4.6 -0.4 l1.6 2.4" class="lw"/><path d="M-5 4.4 q5 3.6 10.4 -0.6" class="t"/></g>
<path class="ld" d="M678.4 448.6 L672 451"/>
<!-- upper right -->
<g transform="translate(720.6 439.4) rotate(20)"><ellipse cx="0" cy="0" rx="6.2" ry="6.8" fill="#fff" stroke="#14281a" stroke-width="2.5"/><path d="M-3 -6.6 l1.6 -2.6 l5 1 l0 2.6" class="lw"/><path d="M-6.4 3 q4 6 10 2.6" class="t"/><path d="M-7.4 -2 l-1.6 1 M-7 2 l-1.6 1" class="l"/></g>
<path class="ld" d="M737.6 429.4 L727.4 435"/>
<!-- hose16r lower -->
<g transform="translate(702.4 507.6) rotate(-15)"><ellipse cx="0" cy="0" rx="5.4" ry="6.8" fill="#fff" stroke="#14281a" stroke-width="2.6"/><path d="M-3.6 -6.4 l-0.6 -2.4 l4 -1.4 l2 2" class="lw"/><path d="M2.6 -5.4 q3.4 5 0.4 11" class="t"/></g>
<path class="ld" d="M717.6 525.6 L706.6 513.6 M707.6 505.4 L711.6 504"/>
<!-- hose19 lower -->
<g transform="translate(374.8 480.8) rotate(-22)"><ellipse cx="0" cy="0" rx="4.8" ry="8" fill="#fff" stroke="#14281a" stroke-width="2.7"/><ellipse cx="0.4" cy="0" rx="6.6" ry="9.6" fill="none" stroke="#3f6a47" stroke-width="0.7"/></g>
<path class="ld" d="M342.8 488.8 L368.6 485.2"/>
<!-- after coupler 16 (left) -->
<g transform="translate(421.2 507.8) rotate(-22)"><ellipse cx="0" cy="0" rx="4.8" ry="8" fill="#fff" stroke="#14281a" stroke-width="2.7"/><ellipse cx="0.4" cy="0" rx="6.6" ry="9.6" fill="none" stroke="#3f6a47" stroke-width="0.7"/></g>
<path class="ld" d="M407 529.6 L418 516.4"/>
<!-- C clamp lower -->
<g transform="translate(522 571.4) rotate(-18)"><path d="M4 -7.6 Q-5.4 -9 -5.6 0 Q-5.4 9.4 4.4 7.6" fill="none" stroke="#14281a" stroke-width="3.2" stroke-linecap="round"/></g>
<!-- after coupler 16 (lower) -->
<g transform="translate(564.2 593.8) rotate(-22)"><ellipse cx="0" cy="0" rx="4.8" ry="8.2" fill="#fff" stroke="#14281a" stroke-width="2.7"/><ellipse cx="0.4" cy="0" rx="6.6" ry="9.8" fill="none" stroke="#3f6a47" stroke-width="0.7"/></g>
<path class="ld" d="M561.2 615 L563 603"/>
<path class="ld" d="M570 596.6 L577.6 601.6"/>
</g>

<!-- ===== couplers 16 + dims + bolts 24 ===== -->
<g id="couplers">
<!-- left coupler -->
<path d="M390.4 483.4 L410.8 494.4 Q414 501 407.6 509.4 L386.6 498.4 Q384.4 490.2 390.4 483.4 Z" fill="#e4f2e5" stroke="#16301b" stroke-width="2.2" stroke-linejoin="round"/>
<ellipse cx="388.6" cy="491" rx="3.5" ry="7.8" transform="rotate(18 388.6 491)" fill="#eef7ee" stroke="#16301b" stroke-width="2"/>
<path class="l" d="M401.6 489.8 q-4.6 6.6 -2.4 15.4 M404.8 491.4 q-4.6 6.6 -2.4 15.4 M408 493 q-4.6 6.6 -2.4 15.4" style="stroke-width:1.2"/>
<path class="ld" d="M401.2 480.4 V488.6"/>
<path class="ld" d="M382.6 497.6 L363.6 502.6 M400 508.2 L370 515"/>
<path d="M341.2 498.2 L380 521.2" stroke="#111" stroke-width="1.1" fill="none"/>
<path d="M351.6 504.4 L344 503 L346.2 499 Z M372 516.6 L379.4 518.2 L377.4 522 Z" fill="#111"/>
<path d="M398.8 515.6 L386.4 521.8" stroke="#16301b" stroke-width="3.4" stroke-linecap="round" fill="none"/>
<path d="M398.8 515.6 L388 521" stroke="#cfe6d2" stroke-width="1.6" stroke-linecap="round" fill="none"/>
<path d="M383 521 Q385.6 519 387.4 520.6 L388.4 524 Q386.6 526.6 384 525.6 Z" fill="#e4f2e5" stroke="#16301b" stroke-width="1.3"/>
<path class="ld" d="M379.6 535.6 L385 526"/>
<!-- lower coupler -->
<path d="M533 570 L554 581.2 Q557.2 588 550.8 596.6 L528.6 585 Q526.4 577 533 570 Z" fill="#e4f2e5" stroke="#16301b" stroke-width="2.2" stroke-linejoin="round"/>
<ellipse cx="530.8" cy="577.6" rx="3.6" ry="7.8" transform="rotate(18 530.8 577.6)" fill="#eef7ee" stroke="#16301b" stroke-width="2"/>
<path class="l" d="M544.6 576.6 q-4.6 6.8 -2.4 16 M547.8 578.2 q-4.6 6.8 -2.4 16 M551 580 q-4.6 6.8 -2.4 16" style="stroke-width:1.2"/>
<path class="ld" d="M561.6 575.2 L551.8 579"/>
<path class="ld" d="M527 581.4 L512.8 600 M548 595.6 L534.6 612.8"/>
<path d="M503.8 595.6 L540.6 618.8" stroke="#111" stroke-width="1.1" fill="none"/>
<path d="M513.6 601.8 L506 600.2 L508.4 596.4 Z M531.6 613.2 L539.2 614.8 L537 618.6 Z" fill="#111"/>
<path d="M507.6 586.6 L496 592.6" stroke="#16301b" stroke-width="3.4" stroke-linecap="round" fill="none"/>
<path d="M507.6 586.6 L497.4 592" stroke="#cfe6d2" stroke-width="1.6" stroke-linecap="round" fill="none"/>
<path d="M492 592.6 Q494.6 590.6 496.4 592 L497.6 595.6 Q495.8 598 493 597.2 Z" fill="#e4f2e5" stroke="#16301b" stroke-width="1.3"/>
<path class="ld" d="M480.6 594.4 L491 594.4 M519 578.6 L509.6 585.4"/>
<path class="ld" d="M551 562.6 L536 569.2"/>
</g>
</g>
<!-- ===== highlight ===== -->
<g id="sec-highlight">
<rect x="486.4" y="283.3" width="140.1" height="74.7" rx="13" ry="13" fill="none" stroke="#e9212a" stroke-width="4.5"/>
<path d="M543 157.6 H565.6 Q567 157.6 567 159 V216.4 H576.6 Q578.4 216.6 577.6 218.4 L554.6 280.6 Q554 281.6 553.4 280.6 L531.4 218.4 Q530.6 216.6 532.4 216.4 H541.6 V159 Q541.6 157.6 543 157.6 Z" fill="#ea1f27"/>
</g>
<!-- ===== labels ===== -->
<g id="sec-labels">
<g class="n">
<text x="181.0" y="151.9">2</text>
<text x="224.0" y="154.4">2<tspan dx="-0.8">1</tspan></text>
<text x="253.0" y="154.4">22</text>
<text x="321.0" y="154.4">25</text>
<text x="314.0" y="182.9">3</text>
<text x="95.0" y="169.9">27</text>
<text x="66.0" y="197.4">28</text>
<text x="45.0" y="221.4">29</text>
<text x="144.5" y="274.9">20</text>
<text x="122.0" y="291.4">1</text>
<text x="176.0" y="297.9">27</text>
<text x="236.0" y="309.4">3<tspan dx="-0.8">1</tspan></text>
<text x="311.0" y="217.9">27</text>
<text x="302.5" y="261.4">30</text>
<text x="413.6" y="276.4">34</text>
<text x="56.0" y="344.4">32</text>
<text x="185.5" y="394.4">33</text>
<text x="215.0" y="409.9">27</text>
<text x="595.6" y="301.9">1<tspan dx="-2.0">5</tspan></text>
<text x="505.0" y="315.4">26</text>
<text x="615.0" y="328.9">26</text>
<text x="671.2" y="296.9">1<tspan dx="-2.0">7</tspan></text>
<text x="548.6" y="402.9">1<tspan dx="-2.0">4</tspan></text>
<text x="612.0" y="375.9">26</text>
<text x="467.5" y="377.4">26</text>
<text x="392.6" y="371.4">1<tspan dx="-2.0">9</tspan></text>
<text x="441.0" y="388.9">7</text>
<text x="383.0" y="425.4">24</text>
<text x="383.0" y="443.4">22</text>
<text x="383.0" y="460.4">2<tspan dx="-0.8">1</tspan></text>
<text x="419.0" y="441.1">9</text>
<text x="417.6" y="468.4">1<tspan dx="-2.8">1</tspan></text>
<text x="401.6" y="480.4">1<tspan dx="-2.0">6</tspan></text>
<text x="324.0" y="496.4">26</text>
<text x="377.6" y="546.9">24</text>
<text x="402.4" y="541.9">26</text>
<text x="415.0" y="555.9">5</text>
<text x="428.0" y="580.4">2<tspan dx="-0.8">1</tspan></text>
<text x="448.4" y="572.9">22</text>
<text x="468.5" y="599.8">24</text>
<text x="539.0" y="435.4">4</text>
<text x="500.8" y="478.6">23</text>
<text x="490.6" y="492.1">22</text>
<text x="501.6" y="509.9">1<tspan dx="-2.0">2</tspan></text>
<text x="576.3" y="438.4">26</text>
<text x="675.1" y="431.9">1<tspan dx="-2.0">3</tspan></text>
<text x="687.5" y="452.8">26</text>
<text x="747.3" y="431.4">26</text>
<text x="591.7" y="480.6">6</text>
<text x="633.5" y="484.9">24</text>
<text x="634.4" y="501.4">22</text>
<text x="634.4" y="517.9">2<tspan dx="-0.8">1</tspan></text>
<text x="620.0" y="538.9">8</text>
<text x="616.1" y="562.9">1<tspan dx="-2.0">0</tspan></text>
<text x="767.0" y="513.4">1<tspan dx="-2.0">6</tspan></text>
<text x="724.4" y="538.9">26</text>
<text x="669.2" y="586.9">1<tspan dx="-2.0">8</tspan></text>
<text x="570.1" y="578.8">1<tspan dx="-2.0">6</tspan></text>
<text x="560.8" y="629.4">26</text>
<text x="366.0" y="510.4" transform="rotate(30 366.0 505.4)" style="font-size:13px">100</text>
<text x="526.2" y="609.2" transform="rotate(30 526.2 604.2)" style="font-size:13px">100</text>
<text x="358.6" y="520.6" transform="rotate(30 358.6 516.6)" style="font-size:13px">mm</text>
<text x="518.0" y="618.2" transform="rotate(30 518.0 614.2)" style="font-size:13px">mm</text>
<text x="395.7" y="633" style="font-size:10px;font-weight:bold;fill:#2a2a2a;stroke:none">-16-</text>
</g>
</g>
</svg>
</body>
</html>
